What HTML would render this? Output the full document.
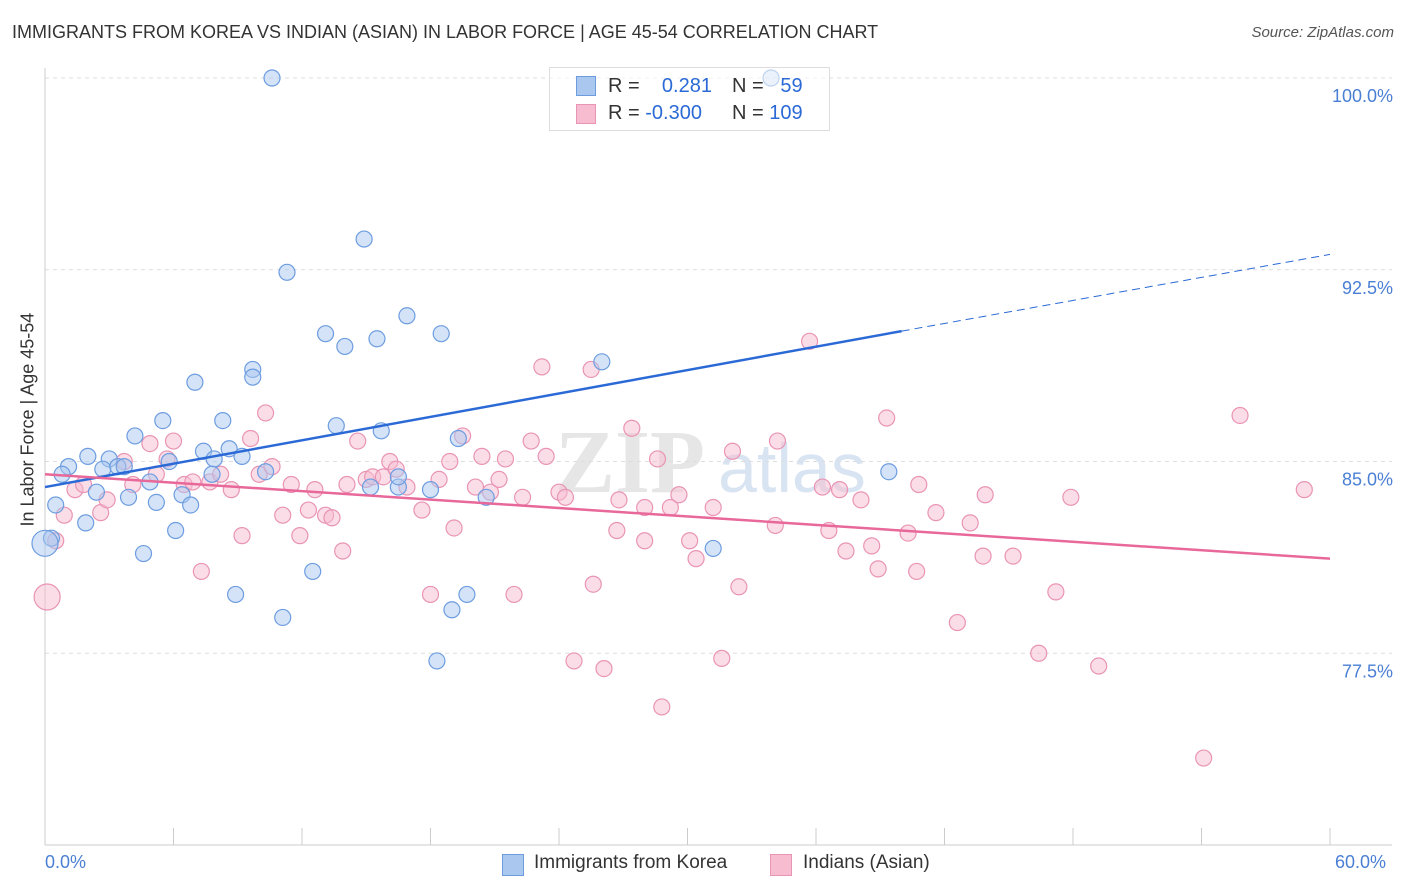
<!DOCTYPE html>
<html><head><meta charset="utf-8"><style>
body{margin:0;background:#fff;font-family:"Liberation Sans",sans-serif}
#wrap{position:relative;width:1406px;height:892px}
.t{position:absolute;white-space:nowrap}
</style></head><body>
<div id="wrap">
<div class="t" style="left:12px;top:22px;font-size:18px;color:#333">IMMIGRANTS FROM KOREA VS INDIAN (ASIAN) IN LABOR FORCE | AGE 45-54 CORRELATION CHART</div>
<div class="t" style="right:12px;top:24px;font-size:15px;color:#555;font-style:italic">Source: ZipAtlas.com</div>
<svg id="svg" width="1406" height="892" style="position:absolute;left:0;top:0"></svg>
</div>
<script>
const xTicks=[0,6,12,18,24,30,36,42,48,54,60];
const yGrid=[100,92.5,85,77.5];
const yTickLabels=["100.0%","92.5%","85.0%","77.5%"];
const koreaX=[10.6,33.9,14.9,11.3,16.9,13.1,14.0,15.5,18.5,26.0,9.7,9.7,7.0,5.5,8.3,13.6,15.7,4.2,19.3,2.0,3.0,7.4,8.6,1.1,0.8,2.7,3.4,3.7,5.8,7.9,9.2,10.3,7.8,4.9,2.4,3.9,5.2,6.4,6.8,0.5,1.9,6.1,4.6,12.5,8.9,11.1,19.7,19.0,18.3,15.2,16.5,18.0,16.5,20.6,39.4,31.2,0.3];
const koreaY=[100,100,93.7,92.4,90.7,90.0,89.5,89.8,90.0,88.9,88.6,88.3,88.1,86.6,86.6,86.4,86.2,86.0,85.9,85.2,85.1,85.4,85.5,84.8,84.5,84.7,84.8,84.8,85.0,85.1,85.2,84.6,84.5,84.2,83.8,83.6,83.4,83.7,83.3,83.3,82.6,82.3,81.4,80.7,79.8,78.9,79.8,79.2,77.2,84.0,84.0,83.9,84.4,83.6,84.6,81.6,82.0];
const indX=[0.5,0.9,1.4,1.8,2.6,2.9,3.7,4.1,4.9,5.2,5.7,6.0,6.5,6.9,7.3,7.7,8.2,8.7,9.2,9.6,10.0,10.3,10.6,11.1,11.5,11.9,12.3,12.6,13.1,13.4,13.9,14.1,14.6,15.0,15.3,15.8,16.1,16.4,16.9,17.6,18.0,18.4,18.9,19.1,19.5,20.1,20.4,20.8,21.2,21.5,21.9,22.3,22.7,23.2,23.4,24.0,24.3,24.7,25.5,25.6,26.1,26.7,26.8,27.4,28.0,28.0,28.6,28.8,29.2,29.6,30.1,30.4,31.2,31.6,32.1,32.4,34.1,34.2,35.7,36.3,36.6,37.1,37.4,38.1,38.6,38.9,39.3,40.3,40.7,40.8,41.6,42.6,43.2,43.8,43.9,45.2,46.4,47.2,47.9,49.2,54.1,55.8,58.8];
const indY=[81.9,82.9,83.9,84.1,83.0,83.5,85.0,84.1,85.7,84.5,85.1,85.8,84.1,84.2,80.7,84.2,84.5,83.9,82.1,85.9,84.5,86.9,84.8,82.9,84.1,82.1,83.1,83.9,82.9,82.8,81.5,84.1,85.8,84.3,84.4,84.4,85.0,84.7,84.0,83.1,79.8,84.3,85.0,82.4,86.0,84.0,85.2,83.8,84.3,85.1,79.8,83.6,85.8,88.7,85.2,83.8,83.6,77.2,88.6,80.2,76.9,82.3,83.5,86.3,81.9,83.2,85.1,75.4,83.2,83.7,81.9,81.2,83.2,77.3,85.4,80.1,82.5,85.8,89.7,84.0,82.3,83.9,81.5,83.5,81.7,80.8,86.7,82.2,80.7,84.1,83.0,78.7,82.6,81.3,83.7,81.3,77.5,79.9,83.6,77.0,73.4,86.8,83.9];
const bigKorea=[[0,81.8]];
const bigInd=[[0.1,79.7]];
const koreaTrend=[[0,84.0],[40.0,90.1],[60,93.1]];
const indTrend=[[0,84.5],[60,81.2]];
const L=45,R=1330,T=78,B=845;
const sx=v=>L+(v/60)*(R-L);
const sy=v=>T+(100-v)/30*(B-T);
const svg=document.getElementById('svg');
const NS='http://www.w3.org/2000/svg';
function mk(tag,a){const e=document.createElementNS(NS,tag);for(const k in a)e.setAttribute(k,a[k]);svg.appendChild(e);return e;}
let w=mk('text',{x:555,y:492,'font-size':90,'font-family':'Liberation Serif,serif','font-weight':'bold',fill:'#e6e6e6'});w.textContent='ZIP';

w=mk('text',{x:718,y:492,'font-size':70,'font-family':'Liberation Sans,sans-serif',fill:'#d9e4f3'});w.textContent='atlas';

yGrid.forEach((v,i)=>{
 const g=mk('line',{x1:L,x2:1392,y1:sy(v),y2:sy(v),stroke:'#ddd','stroke-dasharray':'4,4'});
 
 const t=mk('text',{x:1393,y:sy(v)+24,'text-anchor':'end','font-size':18,fill:'#4a7fd4','font-family':'Liberation Sans,sans-serif'});
 t.textContent=yTickLabels[i];
 
});
let ax=mk('line',{x1:L,x2:L,y1:68,y2:B,stroke:'#ccc'});
ax=mk('line',{x1:L,x2:1392,y1:B,y2:B,stroke:'#ccc'});
xTicks.forEach(v=>{const t=mk('line',{x1:sx(v),x2:sx(v),y1:828,y2:B,stroke:'#ccc'});
 });
function dot(x,y,r,f,s,name){const c=mk('circle',{cx:sx(x),cy:sy(y),r:r,fill:f,'fill-opacity':0.5,stroke:s,'stroke-width':1.2});
 }
indX.forEach((x,i)=>dot(x,indY[i],8,'#f7bcd0','#e994b4','indian-point'));
bigInd.forEach(p=>dot(p[0],p[1],13,'#f7bcd0','#e994b4','indian-point'));
koreaX.forEach((x,i)=>dot(x,koreaY[i],8,'#a9c7ef','#6d9de0','korea-point'));
bigKorea.forEach(p=>dot(p[0],p[1],13,'#a9c7ef','#6d9de0','korea-point'));
let l=mk('line',{x1:sx(koreaTrend[0][0]),y1:sy(koreaTrend[0][1]),x2:sx(koreaTrend[1][0]),y2:sy(koreaTrend[1][1]),stroke:'#2b6ad6','stroke-width':2.5});

l=mk('line',{x1:sx(koreaTrend[1][0]),y1:sy(koreaTrend[1][1]),x2:sx(koreaTrend[2][0]),y2:sy(koreaTrend[2][1]),stroke:'#2b6ad6','stroke-width':1,'stroke-dasharray':'8,5'});

l=mk('line',{x1:sx(indTrend[0][0]),y1:sy(indTrend[0][1]),x2:sx(indTrend[1][0]),y2:sy(indTrend[1][1]),stroke:'#e8689a','stroke-width':2.5});

</script>
<div class="t" style="left:45px;top:852px;font-size:18px;color:#4a7fd4">0.0%</div>
<div class="t" style="left:1335px;top:852px;font-size:18px;color:#4a7fd4">60.0%</div>
<div class="t" style="left:-42px;top:446px;font-size:18px;color:#333;transform:rotate(-90deg);transform-origin:center;width:140px;text-align:center">In Labor Force | Age 45-54</div>
<div style="position:absolute;left:549px;top:67px;width:279px;height:62px;border:1px solid #ddd;background:rgba(255,255,255,0.55);font-size:20px;color:#333">
 <div style="position:absolute;left:26px;top:8px;width:18px;height:18px;background:#a9c7ef;border:1px solid #6d9de0"></div>
 <div class="t" style="left:58px;top:7px">R = &nbsp; <span style="color:#2b6ad6">&nbsp;0.281</span></div>
 <div class="t" style="left:182px;top:7px">N = &nbsp;<span style="color:#2b6ad6">&nbsp;59</span></div>
 <div style="position:absolute;left:26px;top:36px;width:18px;height:18px;background:#f7bcd0;border:1px solid #e994b4"></div>
 <div class="t" style="left:58px;top:34px">R = <span style="color:#2b6ad6">-0.300</span></div>
 <div class="t" style="left:182px;top:34px">N = <span style="color:#2b6ad6">109</span></div>
</div>
<div style="position:absolute;left:502px;top:852px;font-size:19px;color:#333">
 <div style="position:absolute;left:0;top:2px;width:20px;height:20px;background:#a9c7ef;border:1px solid #6d9de0"></div>
 <div class="t" style="left:32px;top:0">Immigrants from Korea</div>
 <div style="position:absolute;left:268px;top:2px;width:20px;height:20px;background:#f7bcd0;border:1px solid #e994b4"></div>
 <div class="t" style="left:301px;top:0">Indians (Asian)</div>
</div>
</body></html>
